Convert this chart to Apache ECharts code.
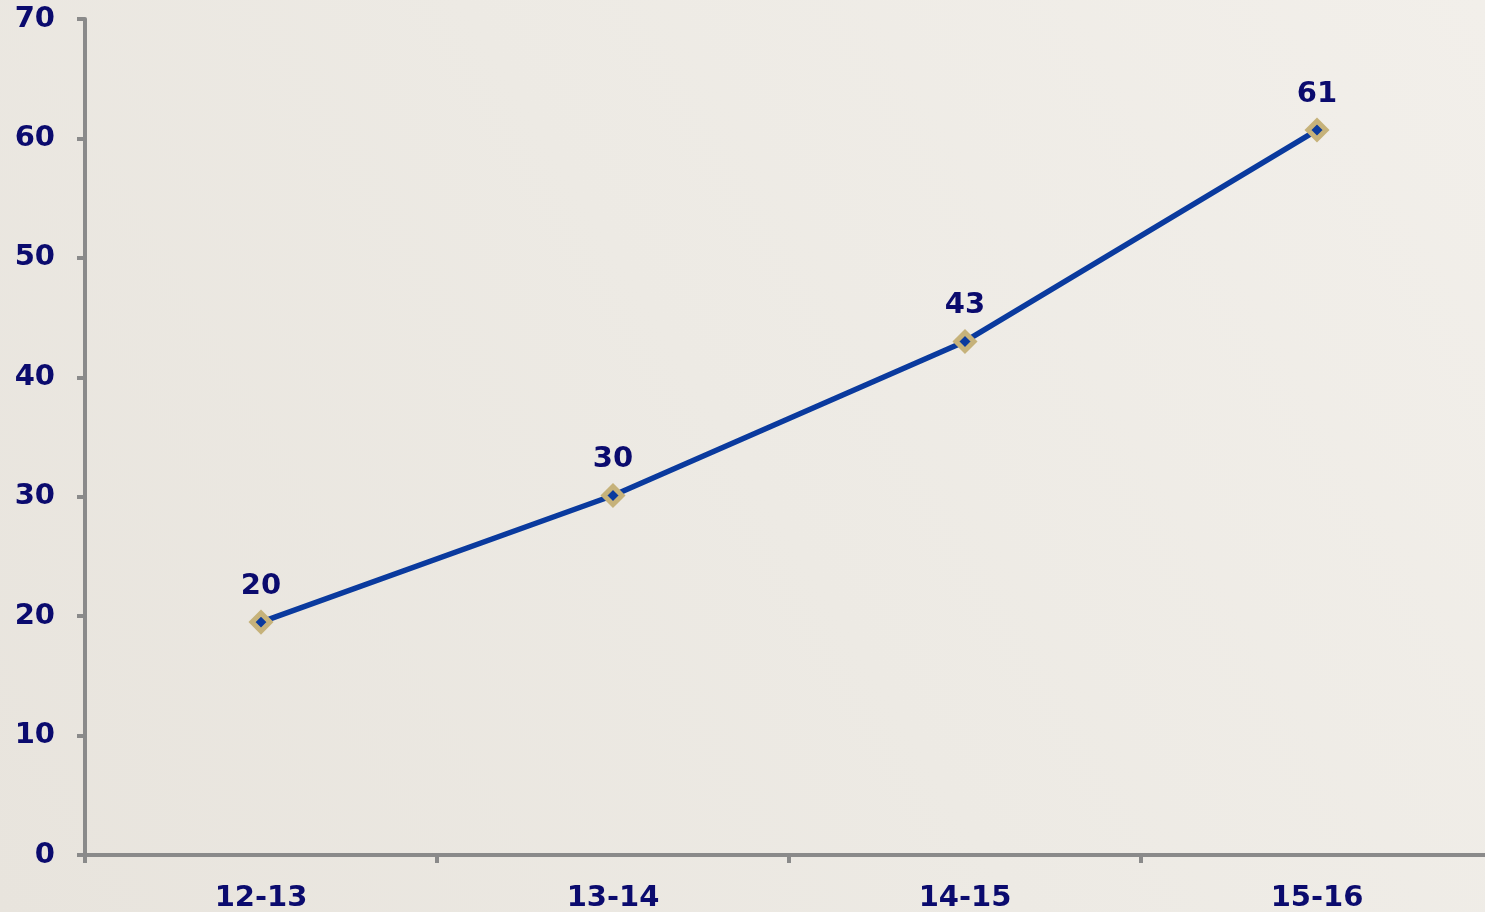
<!DOCTYPE html>
<html>
<head>
<meta charset="utf-8">
<script src="https://cdn.jsdelivr.net/npm/echarts@6/dist/echarts.min.js"></script>
<style>
html,body{margin:0;padding:0;width:1485px;height:912px;overflow:hidden;}
#chart{width:1485px;height:912px;}
</style>
</head>
<body>
<div id="chart"></div>
<script>
const categories = ['12-13', '13-14', '14-15', '15-16'];
const values = [19.5, 30.1, 43.0, 60.7];
const yTicks = [0, 10, 20, 30, 40, 50, 60, 70];

const navy = '#0b0b6e';
const font = 'DejaVu Sans, Verdana, sans-serif';
const chart = echarts.init(document.getElementById('chart'), null, {renderer: 'canvas'});
chart.setOption({
  backgroundColor: {
    type: 'linear', x: 0, y: 1, x2: 1, y2: 0,
    colorStops: [
      {offset: 0, color: '#e8e4dd'},
      {offset: 0.5, color: '#edeae4'},
      {offset: 1, color: '#f2efea'}
    ]
  },
  animation: false,
  grid: {left: 85, top: 19, width: 1408, bottom: 57, containLabel: false, outerBoundsMode: 'none'},
  xAxis: {
    type: 'category',
    data: categories,
    boundaryGap: true,
    axisLine: {show: true, lineStyle: {color: '#8a8a8a', width: 4}},
    axisTick: {show: true, length: 8, lineStyle: {color: '#8a8a8a', width: 4}},
    axisLabel: {color: navy, fontFamily: font, fontWeight: 'bold', fontSize: 29, margin: 29},
    splitLine: {show: false}
  },
  yAxis: {
    type: 'value',
    min: yTicks[0],
    max: yTicks[yTicks.length - 1],
    interval: 10,
    axisLine: {show: true, lineStyle: {color: '#8a8a8a', width: 4}},
    axisTick: {show: true, length: 8, lineStyle: {color: '#8a8a8a', width: 4}},
    axisLabel: {color: navy, fontFamily: font, fontWeight: 'bold', fontSize: 29, margin: 30},
    splitLine: {show: false}
  },
  series: [{
    type: 'line',
    data: values,
    lineStyle: {color: '#0a3a9e', width: 5.5},
    symbol: 'diamond',
    symbolSize: 18,
    showAllSymbol: true,
    itemStyle: {color: '#0a3a9e', borderColor: '#c6b27a', borderWidth: 5},
    label: {
      show: true, position: 'top', distance: 10,
      color: navy, fontFamily: font, fontWeight: 'bold', fontSize: 29,
      formatter: p => Math.round(p.value)
    }
  }]
});
</script>
</body>
</html>
